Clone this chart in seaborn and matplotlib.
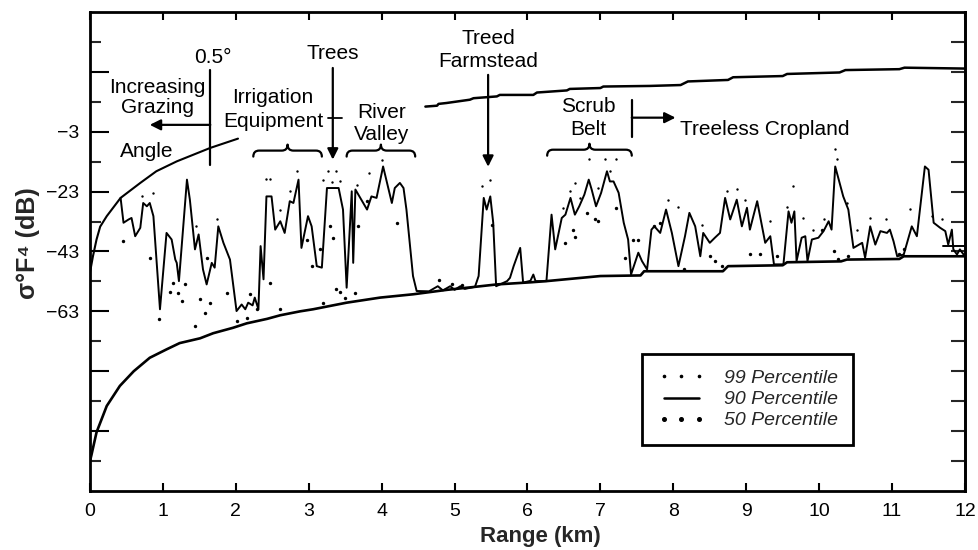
import matplotlib
matplotlib.use("Agg")
import matplotlib.pyplot as plt
from matplotlib.lines import Line2D
from matplotlib.path import Path
from matplotlib.patches import PathPatch
import seaborn as sns

# ---------------- data (km, dB) ----------------
grazing_x = [0.0, 0.04, 0.09, 0.14, 0.23, 0.42, 0.69, 0.91, 1.19, 1.65, 2.03]
grazing_y = [-50, -44.7, -39, -34.7, -31.2, -25.1, -20.1, -16.2, -12.9, -8.4, -5.3]

upper_x = [4.60, 4.76, 4.78, 4.89, 5.21, 5.26, 5.58, 5.62, 6.08, 6.13, 6.54, 6.58, 7.00, 7.04,
           7.68, 8.10, 8.20, 8.75, 8.82, 9.50, 9.56, 10.28, 10.36, 11.10, 11.17, 12.0]
upper_y = [5.4, 5.7, 6.3, 6.6, 7.7, 8.2, 8.8, 9.3, 9.3, 10.1, 10.8, 11.3, 11.6, 12.1,
           12.3, 12.6, 13.8, 14.3, 15.2, 15.6, 16.3, 16.8, 17.6, 17.9, 18.4, 18.1]

floor_x = [0.0, 0.02, 0.09, 0.23, 0.41, 0.60, 0.82, 1.05, 1.23, 1.51, 1.69, 1.96, 2.15, 2.43,
           2.61, 2.88, 3.06, 3.52, 3.98, 4.43, 4.90, 5.21, 5.58, 6.04, 6.26, 6.52, 7.00, 7.55,
           7.60, 8.68, 8.75, 9.50, 9.56, 10.30, 10.38, 11.10, 11.16, 12.0]
floor_y = [-113, -111, -103.4, -94.6, -87.9, -83.0, -78.5, -75.7, -73.6, -72.0, -70.3, -68.5,
           -67.0, -65.5, -64.3, -63.0, -62.3, -60.1, -58.4, -57.3, -55.8, -55.0, -54.0, -53.3,
           -52.9, -52.3, -51.2, -51.0, -49.6, -49.6, -47.9, -47.6, -46.6, -46.3, -45.7, -45.5,
           -44.6, -44.6]

p90_x = [0.42, 0.46, 0.53, 0.57, 0.62, 0.69, 0.73, 0.78, 0.82, 0.87, 0.96, 1.05, 1.12, 1.17,
         1.19, 1.22, 1.33, 1.37, 1.44, 1.49, 1.55, 1.60, 1.67, 1.71, 1.76, 1.83, 1.92, 2.01,
         2.08, 2.13, 2.17, 2.23, 2.26, 2.31, 2.34, 2.38, 2.42, 2.49, 2.54, 2.61, 2.67, 2.74,
         2.79, 2.86, 2.90, 2.99, 3.04, 3.11, 3.18, 3.25, 3.41, 3.47, 3.52, 3.59, 3.61, 3.64,
         3.80, 3.86, 3.93, 4.02, 4.14, 4.18, 4.25, 4.30, 4.34, 4.43, 4.48,
         4.65, 4.77, 4.84, 4.94, 5.00, 5.08, 5.14, 5.28, 5.33, 5.40, 5.44, 5.49, 5.53, 5.57,
         5.72, 5.76, 5.81, 5.90, 5.94, 6.04, 6.08, 6.11, 6.26, 6.33, 6.38, 6.47, 6.52, 6.59,
         6.65, 6.71, 6.78, 6.84, 6.88, 6.94, 7.01, 7.09, 7.13, 7.18, 7.25, 7.32, 7.38, 7.42,
         7.52, 7.57, 7.64, 7.70, 7.74, 7.82, 7.90, 7.98, 8.07, 8.16, 8.22, 8.30, 8.37, 8.41,
         8.50, 8.57, 8.64, 8.71, 8.78, 8.87, 8.94, 9.01, 9.05, 9.15, 9.26, 9.33, 9.38, 9.51,
         9.58, 9.62, 9.66, 9.69, 9.76, 9.81, 9.84, 9.90, 9.99, 10.06, 10.13, 10.17, 10.22,
         10.33, 10.40, 10.47, 10.59, 10.63, 10.70, 10.77, 10.84, 10.93, 10.97, 11.02, 11.07,
         11.16, 11.27, 11.34, 11.45, 11.50, 11.57, 11.66, 11.73, 11.77, 11.82, 11.84, 11.89,
         11.93, 11.98]
p90_y = [-25.1, -33.4, -32.3, -31.8, -37.9, -35.1, -26.8, -27.9, -26.8, -31.2, -62.3, -36.8,
         -39.0, -45.7, -46.8, -52.9, -19.0, -25.7, -42.3, -37.3, -49.0, -54.0, -46.8, -48.4,
         -34.6, -40.1, -45.7, -62.9, -60.7, -62.3, -60.1, -61.0, -58.4, -62.3, -41.2, -52.3,
         -24.6, -24.6, -35.7, -32.9, -36.8, -26.2, -26.8, -19.0, -41.8, -31.2, -34.6, -47.9,
         -48.4, -21.8, -21.8, -29.0, -55.1, -22.9, -46.8, -22.3, -29.0, -24.6, -25.1, -14.6,
         -26.8, -21.8, -20.1, -21.8, -29.0, -51.2, -56.2,
         -56.3, -54.6, -56.0, -54.6, -55.8, -54.6, -55.5, -54.8, -51.2, -25.1, -29.0, -24.6,
         -33.4, -54.6, -52.9, -51.8, -47.9, -41.8, -53.4, -52.8, -50.7, -52.9, -52.9, -30.7,
         -42.3, -31.8, -30.7, -25.1, -30.7, -27.9, -24.0, -19.0, -22.3, -27.9, -23.4, -16.2,
         -19.6, -19.6, -23.4, -33.4, -39.0, -50.7, -43.4, -46.2, -49.0, -35.7, -34.6, -36.8,
         -29.0, -36.8, -47.9, -37.9, -30.1, -34.6, -44.6, -36.8, -40.1, -38.4, -36.8, -25.1,
         -32.3, -25.7, -34.6, -28.4, -35.7, -26.2, -40.1, -37.9, -47.3, -47.3, -29.6, -33.4,
         -29.6, -46.2, -38.4, -37.9, -46.2, -39.0, -38.4, -36.2, -32.9, -35.7, -14.6, -24.6,
         -29.0, -41.8, -40.1, -45.1, -34.6, -40.7, -36.2, -36.8, -35.7, -39.6, -44.6, -44.0,
         -34.6, -37.9, -14.6, -15.7, -33.4, -35.1, -36.2, -40.7, -35.7, -42.3, -44.0, -42.3,
         -44.0]

ledge_x = [11.70, 12.0]
ledge_y = [-41.3, -41.3]

p99_x = [0.71, 0.87, 1.46, 1.74, 2.42, 2.47, 2.61, 2.74, 2.84, 3.20, 3.27, 3.32, 3.37, 3.43,
         3.66, 3.82, 4.01, 5.37, 5.49, 6.49, 6.58, 6.65, 6.72, 6.84, 6.97, 7.06, 7.13, 7.22,
         7.93, 8.07, 8.39, 8.73, 8.87, 8.98, 9.33, 9.56, 9.64, 9.78, 9.92, 10.06, 10.22, 10.24,
         10.38, 10.52, 10.70, 10.91, 11.25, 11.55, 11.68]
p99_y = [-24.6, -23.4, -34.6, -32.3, -18.8, -18.8, -29.0, -22.9, -16.2, -19.0, -16.2, -19.9,
         -16.2, -19.6, -20.7, -16.8, -12.3, -21.0, -19.0, -28.4, -22.9, -20.1, -25.1, -12.1,
         -21.8, -12.1, -16.2, -12.1, -25.9, -28.1, -34.0, -22.9, -22.1, -25.9, -32.9, -28.1,
         -21.0, -31.8, -35.7, -32.3, -8.8, -12.1, -26.8, -35.7, -31.8, -32.3, -28.8, -31.0, -32.1]

p50_x = [0.45, 0.82, 0.95, 1.10, 1.14, 1.21, 1.26, 1.30, 1.44, 1.51, 1.58, 1.60, 1.65, 1.88,
         2.01, 2.15, 2.19, 2.29, 2.47, 2.61, 2.97, 3.04, 3.16, 3.20, 3.29, 3.33, 3.38, 3.43,
         3.50, 3.64, 3.68, 3.80, 4.21, 4.78, 4.96, 5.10, 5.51, 6.52, 6.63, 6.65, 6.81, 6.93,
         6.97, 7.22, 7.34, 7.45, 7.52, 7.73, 7.82, 8.14, 8.50, 8.57, 8.67, 9.05, 9.19, 9.42,
         10.04, 10.20, 10.26, 10.40, 11.09, 11.16]
p50_y = [-39.6, -45.1, -65.7, -56.6, -53.4, -56.8, -59.6, -54.0, -67.9, -59.0, -63.4, -45.1,
         -60.1, -56.8, -66.2, -65.1, -57.3, -62.3, -53.4, -62.3, -39.0, -47.9, -42.3, -60.1,
         -34.6, -38.4, -55.4, -56.6, -58.4, -57.0, -34.6, -26.2, -33.4, -52.6, -54.0, -54.3,
         -34.0, -40.1, -35.7, -38.1, -30.1, -32.1, -32.9, -28.4, -45.1, -39.0, -39.0, -34.6,
         -33.4, -49.0, -44.6, -46.2, -47.7, -43.7, -43.7, -44.6, -35.7, -42.9, -45.4, -44.6,
         -44.0, -42.3]

x_ticks = list(range(0, 13))
y_major = [17, -3, -23, -43, -63, -83, -103]
y_minor = [27, 7, -13, -33, -53, -73, -93, -113]
y_labelled = [-3, -23, -43, -63]
legend_labels = ["99 Percentile", "90 Percentile", "50 Percentile"]

# ---------------- style ----------------
sns.set_style("white")
plt.rcParams['font.family'] = ['Liberation Sans', 'DejaVu Sans']
plt.rcParams['axes.unicode_minus'] = True

fig = plt.figure(figsize=(9.79, 5.5), dpi=100)
ax = fig.add_axes([0.0919, 0.1073, 0.8938, 0.8709])

K = 'black'
sns.lineplot(x=grazing_x, y=grazing_y, ax=ax, color=K, lw=1.5, estimator=None, sort=False)
sns.lineplot(x=upper_x, y=upper_y, ax=ax, color=K, lw=1.8, estimator=None, sort=False)
sns.lineplot(x=floor_x, y=floor_y, ax=ax, color=K, lw=1.9, estimator=None, sort=False)
sns.lineplot(x=p90_x, y=p90_y, ax=ax, color=K, lw=1.4, estimator=None, sort=False)
sns.lineplot(x=ledge_x, y=ledge_y, ax=ax, color=K, lw=1.4, estimator=None, sort=False)
sns.scatterplot(x=p99_x, y=p99_y, ax=ax, color=K, s=3, linewidth=0)
sns.scatterplot(x=p50_x, y=p50_y, ax=ax, color=K, s=6, linewidth=0)

ax.set_xlim(0, 12)
ax.set_ylim(-123, 37)

# ---------------- annotations ----------------
FS = 15
def txt(x, y, s, ha='center'):
    ax.text(x, y, s, ha=ha, va='center', fontsize=FS, color=K)

txt(1.69, 21.7, "0.5°")
txt(0.92, 11.7, "Increasing")
txt(0.92, 5.0, "Grazing")
txt(0.78, -9.7, "Angle")
txt(2.51, 8.3, "Irrigation")
txt(2.51, 0.3, "Equipment")
txt(3.33, 23.3, "Trees")
txt(4.0, 3.3, "River")
txt(4.0, -4.0, "Valley")
txt(5.46, 28.3, "Treed")
txt(5.46, 20.3, "Farmstead")
txt(6.83, 5.3, "Scrub")
txt(6.83, -2.3, "Belt")
txt(8.09, -2.3, "Treeless Cropland", ha='left')

arrow_kw = dict(arrowstyle='-|>', color=K, lw=1.6, mutation_scale=16, shrinkA=0, shrinkB=0)
ax.plot([1.65, 1.65], [17.7, -14.0], color=K, lw=1.6)
ax.annotate('', xy=(0.82, -0.7), xytext=(1.65, -0.7), arrowprops=arrow_kw)
ax.annotate('', xy=(3.33, -12.3), xytext=(3.33, 18.3), arrowprops=arrow_kw)
ax.plot([3.26, 3.46], [1.7, 1.7], color=K, lw=1.3)
ax.annotate('', xy=(5.46, -14.7), xytext=(5.46, 16.0), arrowprops=arrow_kw)
ax.plot([7.43, 7.43], [7.7, -4.7], color=K, lw=1.6)
ax.annotate('', xy=(8.03, 1.7), xytext=(7.43, 1.7), arrowprops=arrow_kw)

def brace(x0, x1, y, h=2.0, r=0.08):
    xm = (x0 + x1) / 2
    verts = [(x0, y - h), (x0, y), (x0 + r, y),
             (xm - r, y), (xm, y), (xm, y + h),
             (xm, y), (xm + r, y),
             (x1 - r, y), (x1, y), (x1, y - h)]
    codes = [Path.MOVETO, Path.CURVE3, Path.CURVE3,
             Path.LINETO, Path.CURVE3, Path.CURVE3,
             Path.CURVE3, Path.CURVE3,
             Path.LINETO, Path.CURVE3, Path.CURVE3]
    ax.add_patch(PathPatch(Path(verts, codes), fill=False, lw=1.6, edgecolor=K,
                           capstyle='round', joinstyle='round'))

brace(2.24, 3.18, -9.3)
brace(3.52, 4.46, -9.3)
brace(6.27, 7.43, -9.0)

# ---------------- axes / ticks ----------------
for sp in ax.spines.values():
    sp.set_visible(True)
    sp.set_linewidth(2.0)
    sp.set_color(K)

ax.set_xticks(x_ticks)
ax.set_xticklabels([str(v) for v in x_ticks])
ax.tick_params(axis='x', direction='in', length=6, width=1.5, top=True, bottom=True,
               labelsize=14, pad=9, colors=K)
ax.set_yticks(y_major)
ax.set_yticklabels([("\u2212%d" % abs(v)) if v in y_labelled else "" for v in y_major])
ax.set_yticks(y_minor, minor=True)
ax.tick_params(axis='y', which='major', direction='in', length=14, width=1.5, left=True,
               right=False, labelsize=14, pad=8, colors=K)
ax.tick_params(axis='y', which='minor', direction='in', length=8, width=1.5, left=True,
               right=False)

sec = ax.secondary_yaxis('right')
sec.set_yticks(sorted(y_major + y_minor))
sec.tick_params(direction='in', length=10, width=1.5, labelright=False)
sec.set_yticklabels([])
sec.spines['right'].set_linewidth(2.0)

ax.set_xlabel("Range (km)", fontsize=16, fontweight='bold')
ax.xaxis.set_label_coords(0.515, -0.074)
ax.set_ylabel("σ°F⁴ (dB)", fontsize=18, fontweight='bold')
ax.yaxis.set_label_coords(-0.057, 0.518)

handles = [Line2D([], [], ls='none', marker='o', ms=1.6, color=K),
           Line2D([], [], color=K, lw=1.8),
           Line2D([], [], ls='none', marker='o', ms=2.6, color=K)]
leg = ax.legend(handles, legend_labels, loc='lower left', bbox_to_anchor=(0.631, 0.096),
                numpoints=3, prop=dict(style='italic', size=14), frameon=True,
                fancybox=False, edgecolor=K, borderpad=0.8, labelspacing=0.18,
                handlelength=2.4, handletextpad=1.0, borderaxespad=0)
leg.get_frame().set_linewidth(2.0)
leg.get_frame().set_alpha(1)

fig.savefig("out.png", dpi=100)
